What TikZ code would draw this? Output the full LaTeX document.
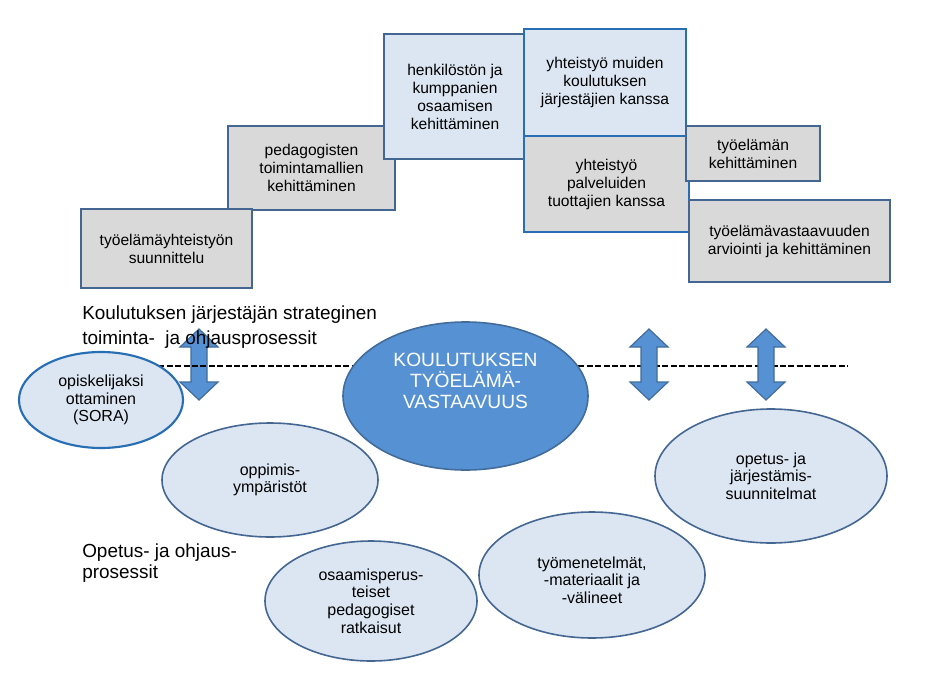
\documentclass[tikz,border=0pt]{standalone}
\usepackage{fontspec}
\setmainfont{Liberation Sans}
\usetikzlibrary{shapes.geometric}
\definecolor{greyfill}{RGB}{217,217,217}
\definecolor{lightblue}{RGB}{220,230,242}
\definecolor{slate}{RGB}{68,102,146}
\definecolor{brightblue}{RGB}{40,110,180}
\definecolor{midblue}{RGB}{86,146,211}
\definecolor{rim}{RGB}{65,108,155}
\tikzset{
  box/.style={rectangle, draw=slate, line width=1.5pt, inner sep=2pt, align=center,
    font=\fontsize{11.7}{13.5}\selectfont, text=black},
  greybox/.style={box, fill=greyfill},
  bluebox/.style={box, fill=lightblue},
  ovaltext/.style={font=\fontsize{12}{13.2}\selectfont},
  oval/.style={ellipse, draw=slate, line width=1.2pt, fill=lightblue, inner sep=0pt,
    align=center, ovaltext, text=black},
  bigoval/.style={ellipse, draw=rim, line width=1.2pt, fill=midblue, inner sep=0pt},
  bigtext/.style={align=center, text=white, font=\fontsize{14.4}{15.9}\selectfont, inner sep=0pt},
  sidelabel/.style={anchor=west, align=left, inner sep=0pt, text=black},
  dashline/.style={black, line width=1.1pt, dash pattern=on 4.5pt off 1.8pt},
  arrowshape/.style={fill=midblue, draw=rim, line width=0.9pt, line join=miter},
  dblarrow/.pic={
    \draw[arrowshape] (0,-35.5) -- (19,-17.5) -- (8,-17.5) -- (8,17.5) -- (19,17.5)
      -- (0,35.5) -- (-19,17.5) -- (-8,17.5) -- (-8,-17.5) -- (-19,-17.5) -- cycle;
  }
}
\begin{document}
\begin{tikzpicture}[x=0.75pt,y=-0.75pt]
\useasboundingbox (0,0) rectangle (932,682);

% double arrows and dashed line
\pic at (199,364.5) {dblarrow};
\coordinate (dl) at (150,366);
\coordinate (dr) at (848,366);
\draw[dashline] (dl) -- (dr);
\pic at (649,364.5) {dblarrow};
\pic at (766,364.5) {dblarrow};

% ellipses
\node[bigoval, minimum width=183.75pt, minimum height=111pt] (core) at (465.5,396) {};
\node[bigtext] (coretext) at (465.5,381) {KOULUTUKSEN\\TYÖELÄMÄ-\\VASTAAVUUS};
\node[oval, draw=brightblue, line width=1.6pt, minimum width=123pt, minimum height=72pt] (sora) at (101,400) {opiskelijaksi\\ottaminen\\(SORA)};
\node[oval, minimum width=162pt, minimum height=85.5pt] (oppi) at (270,480) {oppimis-\\ympäristöt};
\node[oval, minimum width=159pt, minimum height=90pt] (osaa) at (371,601) {osaamisperus-\\teiset\\pedagogiset\\ratkaisut};
\node[oval, minimum width=169.5pt, minimum height=94.5pt] (tyom) at (592,575) {};
\node[align=center, inner sep=0pt, ovaltext] (tyomtext) at (592,580) {työmenetelmät,\\-materiaalit ja\\-välineet};
\node[oval, minimum width=174pt, minimum height=100.5pt] (opet) at (771,476) {opetus- ja\\järjestämis-\\suunnitelmat};

% boxes
\node[greybox, minimum width=125.25pt, minimum height=63pt] (b2) at (311.5,168) {pedagogisten\\toimintamallien\\kehittäminen};
\node[greybox, minimum width=128.25pt, minimum height=59.25pt] (b1) at (166.5,248.5) {työelämäyhteistyön\\suunnittelu};
\node[bluebox, minimum width=106.5pt, minimum height=93.75pt] (b3) at (455,96.5) {henkilöstön ja\\kumppanien\\osaamisen\\kehittäminen};
\node[bluebox, draw=brightblue, minimum width=121.5pt, minimum height=80.25pt] (b4) at (605,82.5) {yhteistyö muiden\\koulutuksen\\järjestäjien kanssa};
\node[greybox, draw=brightblue, minimum width=123.75pt, minimum height=72pt] (b5) at (606.5,184) {yhteistyö\\palveluiden\\tuottajien kanssa};
\node[greybox, minimum width=100.5pt, minimum height=41.25pt] (b6) at (753,153.5) {työelämän\\kehittäminen};
\node[greybox, minimum width=150.75pt, minimum height=61.5pt] (b7) at (789.5,241) {työelämävastaavuuden\\arviointi ja kehittäminen};

% side labels
\node[sidelabel, font=\fontsize{14.2}{18.75}\selectfont] (strat) at (82,327.5) {Koulutuksen järjestäjän strateginen\\toiminta-~ ja ohjausprosessit};
\node[sidelabel, font=\fontsize{14.2}{15.75}\selectfont] (opetus) at (82,563.5) {Opetus- ja ohjaus-\\prosessit};
\end{tikzpicture}
\end{document}
